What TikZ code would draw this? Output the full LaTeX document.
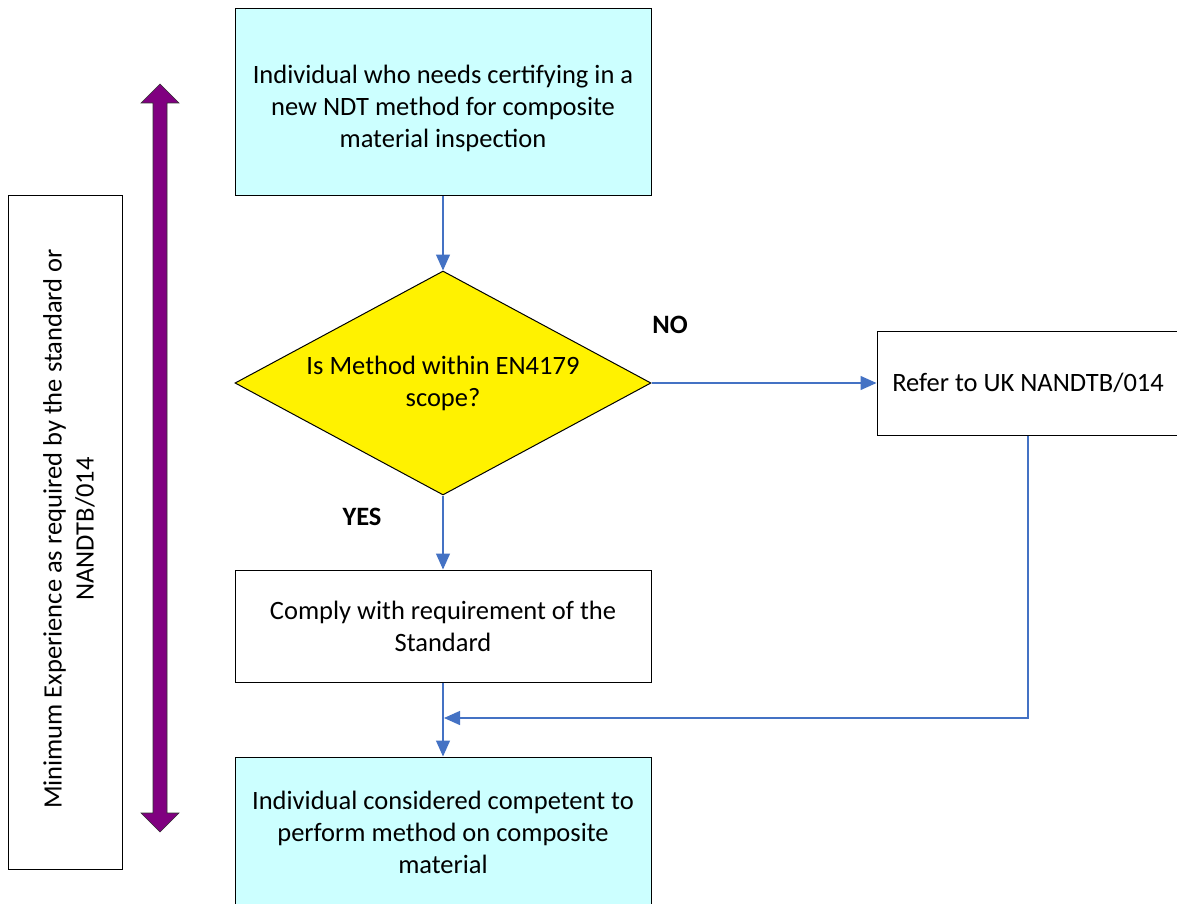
\documentclass[tikz,border=0pt]{standalone}
\usepackage{fontspec}
\setmainfont{Carlito}
\usetikzlibrary{arrows.meta,shapes.geometric}
\definecolor{flowblue}{HTML}{4472C4}
\definecolor{paleaqua}{HTML}{CCFFFF}
\definecolor{plum}{HTML}{800080}
\begin{document}
\begin{tikzpicture}[x=1pt,y=-1pt,
  every node/.style={font=\fontsize{26.5}{32}\selectfont, align=center, inner sep=0pt},
  boxshape/.style={draw=black, line width=1pt, rectangle},
  flow/.style={draw=flowblue, line width=1.3pt, -{Triangle[length=16pt,width=14pt]}},
  tag/.style={font=\fontsize{26.5}{32}\selectfont\bfseries}
]
\useasboundingbox (0,0) rectangle (1177,904);

% process boxes
\node[boxshape, fill=paleaqua, minimum width=416pt, minimum height=187pt] (top) at (443,102.5) {};
\node (toptext) at (443,108)
  {Individual who needs certifying in a\\new NDT method for composite\\material inspection};
\node[draw=black, line width=1pt, fill=yellow, diamond, shape aspect=1.857, minimum width=416pt, minimum height=224pt] (dec) at (443,383)
  {Is Method within EN4179\\scope?};
\node[boxshape, fill=white, minimum width=302pt, minimum height=104pt] (refer) at (1028,383)
  {Refer to UK NANDTB/014};
\node[boxshape, fill=white, minimum width=416pt, minimum height=112pt] (comply) at (443,626)
  {Comply with requirement of the\\Standard};
\node[boxshape, fill=paleaqua, minimum width=416pt, minimum height=150pt] (final) at (443,832)
  {Individual considered competent to\\perform method on composite\\material};

% side panel with rotated caption
\node[boxshape, fill=white, minimum width=114pt, minimum height=673pt] (side) at (65,532.5) {};
\node[rotate=90] (sidetext) at (69,529)
  {Minimum Experience as required by the standard or\\NANDTB/014};

% purple double-headed arrow
\draw[fill=plum, draw=black!80, line width=0.6pt]
  (160,84) -- (179,103) -- (167,103) -- (167,813) -- (179,813) -- (160,832)
  -- (141,813) -- (153,813) -- (153,103) -- (141,103) -- cycle;

% connectors
\draw[flow] (top.south) -- (dec.north);
\draw[flow] (dec.south) -- (comply.north);
\draw[flow] (dec.east) -- (refer.west);
\draw[flow] (comply.south) -- (final.north);
\coordinate (join) at (444,718);
\draw[flow] (refer.south) |- (join);

% branch labels
\node[tag] (nolabel) at (670,325) {NO};
\node[tag] (yeslabel) at (362,517) {YES};
\end{tikzpicture}
\end{document}
